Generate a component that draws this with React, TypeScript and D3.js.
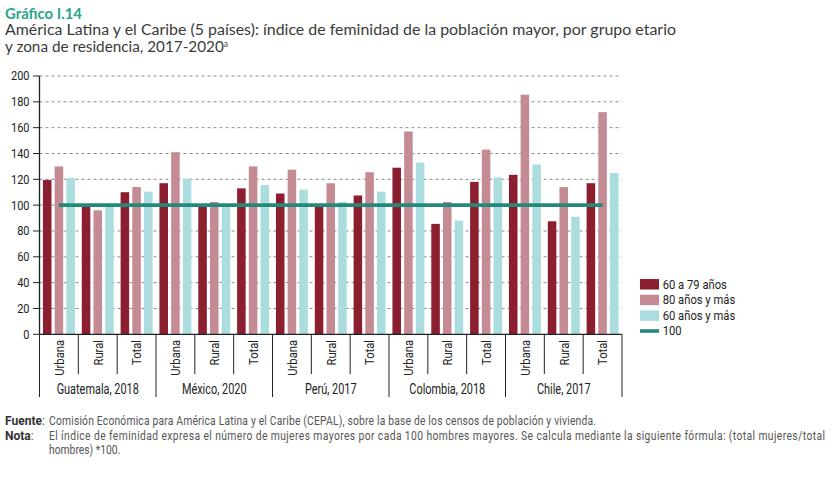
import React from "react";
import * as d3 from "d3";

const countries = ["Guatemala, 2018", "México, 2020", "Perú, 2017", "Colombia, 2018", "Chile, 2017"];
const zones = ["Urbana", "Rural", "Total"];
const seriesNames = ["60 a 79 años", "80 años y más", "60 años y más"];
const age60to79 = [119.5, 99, 110, 117, 99.5, 113, 109, 99.5, 107.5, 129, 85.5, 118, 123.5, 87.5, 117];
const age80plus = [130, 96, 114, 141, 102.5, 130, 127.5, 117, 125.5, 157, 102.5, 143, 185.5, 114, 172];
const age60plus = [121, 99.5, 110.5, 120.5, 99.5, 115.5, 112, 102.5, 110.5, 133, 88, 121.5, 131.5, 91, 125];
const referenceValue = 100;
const referenceName = "100";
const yTicks = [0, 20, 40, 60, 80, 100, 120, 140, 160, 180, 200];

const colors = ["#8B1E2F", "#C48B94", "#ABDDDF"];
const lineColor = "#238A7B";
const cond = "Roboto, 'Liberation Sans', sans-serif";
const titleFont = "Lato, 'Open Sans', sans-serif";

type STProps = {
  x: number; y: number; sx?: number; rotate?: number; anchor?: string; size: number;
  fill?: string; weight?: number; dy?: string; len?: number; children: React.ReactNode;
};
function SText({ x, y, sx = 1, rotate = 0, anchor = "start", size, fill = "#222", weight = 400, dy, len, children }: STProps) {
  return (
    <g transform={`translate(${x},${y}) rotate(${rotate}) scale(${sx},1)`}>
      <text textAnchor={anchor} fontFamily={cond} fontSize={size} fill={fill} fontWeight={weight} dy={dy}
        textLength={len} lengthAdjust={len ? "spacing" : undefined}>{children}</text>
    </g>
  );
}

export default function App() {
  const W = 834, H = 480;
  const left = 39.5, right = 622, top = 76, bottom = 334.3;
  const y = d3.scaleLinear().domain([0, 200]).range([bottom, top]);
  const xg = d3.scaleBand().domain(countries).range([left, right]).paddingInner(0).paddingOuter(0);
  const xz = d3.scaleBand().domain(zones).range([0, xg.bandwidth()]).padding(0);
  const xs = d3.scaleBand().domain(seriesNames).range([0, xz.bandwidth()]).paddingInner(0.27).paddingOuter(0.295);
  const series = [age60to79, age80plus, age60plus];

  const cats: { c: string; z: string; i: number; x0: number }[] = [];
  countries.forEach((c, ci) => zones.forEach((z, zi) => {
    cats.push({ c, z, i: ci * 3 + zi, x0: (xg(c) as number) + (xz(z) as number) });
  }));
  const centers = cats.map((k) => k.x0 + xz.bandwidth() / 2);
  const line = d3.line<number>().x((_, i) => centers[i]).y((v) => y(v));
  const refData = cats.map(() => referenceValue);
  const noteSx = 0.86;

  return (
    <svg width={W} height={H} style={{ position: "absolute", left: 0, top: 0, background: "#fff" }}>
      <text x={5} y={18.5} fontFamily={titleFont} fontWeight={700} fontSize={14.5} fill="#2BA68A" textLength={77} lengthAdjust="spacingAndGlyphs">Gráfico I.14</text>
      <text x={5} y={35} fontFamily={titleFont} fontSize={15.5} fill="#3a3a3a" textLength={671} lengthAdjust="spacingAndGlyphs">América Latina y el Caribe (5 países): índice de feminidad de la población mayor, por grupo etario</text>
      <text x={5} y={51.5} fontFamily={titleFont} fontSize={15.5} fill="#3a3a3a" textLength={223} lengthAdjust="spacingAndGlyphs">y zona de residencia, 2017-2020<tspan dy={-5} fontSize={8.5}>a</tspan></text>

      {yTicks.filter((t) => t > 0).map((t) => (
        <line key={t} x1={left} x2={right} y1={y(t)} y2={y(t)} stroke="#8a8a8a" strokeWidth={1} strokeDasharray="3,3" />
      ))}

      {series.map((vals, si) => cats.map((k) => (
        <rect key={si + "-" + k.i} x={k.x0 + (xs(seriesNames[si]) as number)} width={xs.bandwidth()}
          y={y(vals[k.i])} height={y(0) - y(vals[k.i])} fill={colors[si]} />
      )))}

      <path d={line(refData) || ""} fill="none" stroke={lineColor} strokeWidth={3.6} />

      <line x1={left} x2={left} y1={top} y2={bottom} stroke="#222" strokeWidth={1.3} />
      {yTicks.map((t) => (
        <g key={t}>
          <line x1={left - 6.5} x2={left} y1={y(t)} y2={y(t)} stroke="#222" strokeWidth={1} />
          <SText x={29.5} y={y(t)} dy="0.36em" anchor="end" size={12.2} sx={0.9}>{t}</SText>
        </g>
      ))}

      <line x1={left} x2={right} y1={bottom} y2={bottom} stroke="#222" strokeWidth={1.3} />
      {cats.map((k) => (
        k.i % 3 !== 0 ? (
          <line key={"s" + k.i} x1={k.x0} x2={k.x0} y1={bottom} y2={374} stroke="#222" strokeWidth={1} />
        ) : null
      ))}
      {countries.map((c) => (
        <line key={"g" + c} x1={xg(c) as number} x2={xg(c) as number} y1={bottom} y2={397} stroke="#222" strokeWidth={1} />
      ))}
      <line x1={right} x2={right} y1={bottom} y2={397} stroke="#222" strokeWidth={1} />
      {cats.map((k, i) => (
        <SText key={"z" + k.i} x={centers[i] + 4.8} y={340} rotate={-90} anchor="end" size={13.5} sx={0.83}>{k.z}</SText>
      ))}
      {countries.map((c) => (
        <SText key={"c" + c} x={(xg(c) as number) + xg.bandwidth() / 2} y={394} anchor="middle" size={14} sx={0.78}>{c}</SText>
      ))}

      {seriesNames.map((s, i) => (
        <g key={s}>
          <rect x={640} y={279 + i * 15.7} width={19} height={10.5} fill={colors[i]} />
          <SText x={662.7} y={284.3 + i * 15.7} dy="0.36em" size={12.2} sx={0.92}>{s}</SText>
        </g>
      ))}
      <line x1={640} x2={659} y1={331} y2={331} stroke={lineColor} strokeWidth={3.6} />
      <SText x={662.7} y={331} dy="0.36em" size={12.2} sx={0.92}>{referenceName}</SText>

      <SText x={5} y={425} size={12.3} sx={0.98} fill="#333" weight={700}>Fuente<tspan fontWeight={400} fill="#555">:</tspan></SText>
      <SText x={49} y={425} size={12} sx={noteSx} fill="#555" len={547 / noteSx}>Comisión Económica para América Latina y el Caribe (CEPAL), sobre la base de los censos de población y vivienda.</SText>
      <SText x={5} y={439.5} size={12.3} sx={0.98} fill="#333" weight={700}>Nota<tspan fontWeight={400} fill="#555">:</tspan></SText>
      <SText x={49} y={439.5} size={12} sx={noteSx} fill="#555" len={776 / noteSx}>El índice de feminidad expresa el número de mujeres mayores por cada 100 hombres mayores. Se calcula mediante la siguiente fórmula: (total mujeres/total</SText>
      <SText x={49} y={453.5} size={12} sx={noteSx} fill="#555">hombres) *100.</SText>
    </svg>
  );
}
